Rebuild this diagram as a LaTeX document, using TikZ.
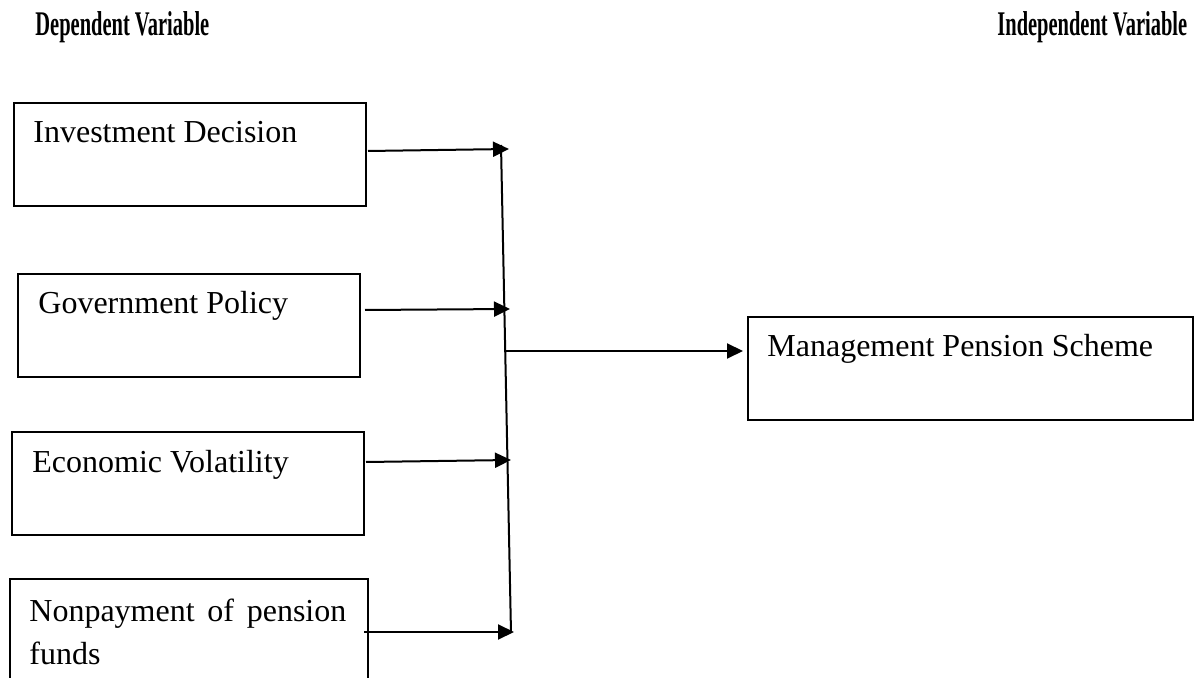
\documentclass[tikz,border=0pt]{standalone}
\usepackage{fontspec}
\setmainfont{Liberation Serif}
\usetikzlibrary{arrows.meta}
\tikzset{
  box/.style={draw=black, line width=1pt, rectangle, inner sep=0pt, anchor=north west},
  lbl/.style={inner sep=0pt, anchor=base west, font=\fontsize{16}{21.5}\selectfont, align=left},
  head/.style={inner sep=0pt, anchor=base west, font=\fontsize{16}{19}\selectfont\bfseries},
  arr/.style={line width=1pt, -{Triangle[length=8pt, width=7.5pt]}},
  bus/.style={line width=1pt}
}
\begin{document}
\begin{tikzpicture}[x=0.5pt, y=-0.5pt]
\clip (0,0) rectangle (1194,678);
\fill[white] (0,0) rectangle (1194,678);
% headings
\node[head] (h1) at (35,36) {\scalebox{0.64}[1.08]{Dependent Variable}};
\node[head] (h2) at (997,36) {\scalebox{0.64}[1.08]{Independent Variable}};
% boxes
\node[box, minimum width=176pt, minimum height=51.5pt] (b1) at (13,102) {};
\node[box, minimum width=171pt, minimum height=51.5pt] (b2) at (17,273) {};
\node[box, minimum width=176pt, minimum height=51.5pt] (b3) at (11,431) {};
\node[box, minimum width=179pt, minimum height=60pt] (b4) at (9,578) {};
\node[box, minimum width=222.5pt, minimum height=51.5pt] (b5) at (747,316) {};
% texts
\node[lbl] (t1) at (33,143) {Investment Decision};
\node[lbl] (t2) at (38,314) {Government Policy};
\node[lbl] (t3) at (32,473) {Economic Volatility};
\node[lbl] (t4) at (29,664) {\makebox[158.5pt][s]{Nonpayment of pension}\\funds};
\node[lbl] (t5) at (767,357) {Management Pension Scheme};
% bus coordinates
\coordinate (vt) at (501,145);
\coordinate (vb) at (511,633);
\coordinate (s1) at (368,151);
\coordinate (j1) at (509,149);
\coordinate (s2) at (365,310);
\coordinate (j2) at (510,309);
\coordinate (s3) at (366,462);
\coordinate (j3) at (511,460);
\coordinate (s4) at (364,632);
\coordinate (j4) at (514,632);
\coordinate (m) at (505,351);
\coordinate (e5) at (743,351);
% connectors
\draw[bus] (vt) -- (vb);
\draw[arr] (s1) -- (j1);
\draw[arr] (s2) -- (j2);
\draw[arr] (s3) -- (j3);
\draw[arr] (s4) -- (j4);
\draw[arr] (m) -- (e5);
\end{tikzpicture}
\end{document}
